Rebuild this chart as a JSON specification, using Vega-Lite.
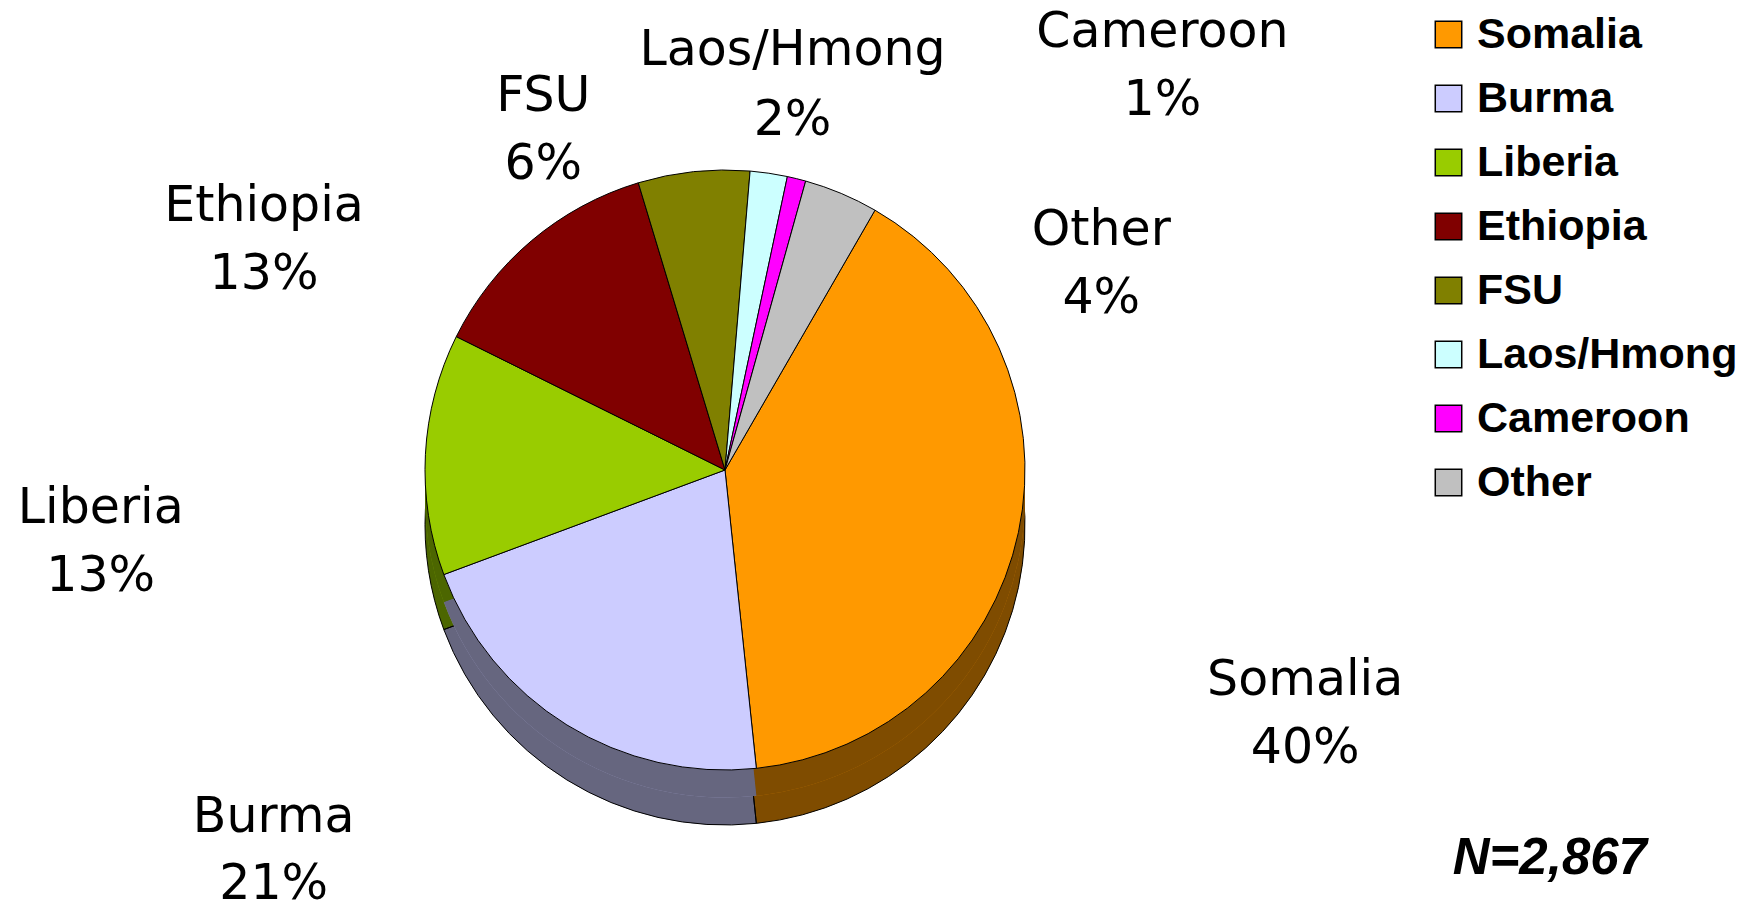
{
  "$schema": "https://vega.github.io/schema/vega-lite/v6.json",
  "width": 1755,
  "height": 913,
  "autosize": "none",
  "padding": 0,
  "background": "white",
  "config": {"view": {"stroke": null}, "text": {"font": "DejaVu Sans", "fontSize": 49, "color": "black"}},
  "layer": [
    {
      "data": {"values": [
        {"country": "Somalia", "share": 0.40, "idx": 1},
        {"country": "Burma", "share": 0.21, "idx": 2},
        {"country": "Liberia", "share": 0.13, "idx": 3},
        {"country": "Ethiopia", "share": 0.13, "idx": 4},
        {"country": "FSU", "share": 0.06, "idx": 5},
        {"country": "Laos/Hmong", "share": 0.02, "idx": 6},
        {"country": "Cameroon", "share": 0.01, "idx": 7},
        {"country": "Other", "share": 0.04, "idx": 8}
      ]},
      "encoding": {
        "theta": {"field": "share", "type": "quantitative", "stack": true, "scale": {"range": [0.5236, 6.8068]}},
        "order": {"field": "idx", "type": "quantitative"}
      },
      "layer": [
        {"mark": {"type": "arc", "radius": 300, "xOffset": -152.5, "yOffset": 68.5, "strokeWidth": 0},
         "encoding": {"color": {"field": "country", "type": "nominal"}}},
        {"mark": {"type": "arc", "radius": 300, "xOffset": -152.5, "yOffset": 68.5, "fill": "black", "fillOpacity": 0.5, "stroke": "black", "strokeWidth": 1},
         "encoding": {"detail": {"field": "country"}}},
        {"mark": {"type": "arc", "radius": 300, "xOffset": -152.5, "yOffset": 41, "strokeWidth": 0},
         "encoding": {"color": {"field": "country", "type": "nominal"}}},
        {"mark": {"type": "arc", "radius": 300, "xOffset": -152.5, "yOffset": 41, "fill": "black", "fillOpacity": 0.5, "strokeWidth": 0},
         "encoding": {"detail": {"field": "country"}}},
        {"mark": {"type": "arc", "radius": 300, "xOffset": -152.5, "yOffset": 13.5, "stroke": "black", "strokeWidth": 1},
         "encoding": {"color": {"field": "country", "type": "nominal",
           "scale": {"domain": ["Somalia", "Burma", "Liberia", "Ethiopia", "FSU", "Laos/Hmong", "Cameroon", "Other"],
                     "range": ["#FF9900", "#CCCCFF", "#99CC00", "#800000", "#808000", "#CCFFFF", "#FF00FF", "#C0C0C0"]},
           "legend": {"orient": "none", "legendX": 1427, "legendY": 13, "title": null, "symbolType": "square", "symbolSize": 700, "symbolStrokeColor": "black", "symbolStrokeWidth": 1.5, "labelFont": "Liberation Sans", "labelFontWeight": "bold", "labelFontSize": 43, "labelColor": "black", "labelOffset": 7, "rowPadding": 20, "labelLimit": 400, "padding": 0,
             "encode": {"symbols": {"update": {"stroke": {"value": "black"}, "strokeWidth": {"value": 1.5}, "opacity": {"value": 1}}}}}}}},

        {"mark": {"type": "text", "radius": 450, "xOffset": -152.5, "yOffset": 13.5, "dx": 140, "dy": 116},
         "encoding": {"detail": {"field": "country"}, "text": {"condition": {"test": "datum.country === 'Somalia'", "field": "country", "type": "nominal"}, "value": ""}}},
        {"mark": {"type": "text", "radius": 450, "xOffset": -152.5, "yOffset": 13.5, "dx": 140, "dy": 184},
         "encoding": {"detail": {"field": "country"}, "text": {"condition": {"test": "datum.country === 'Somalia'", "field": "share", "type": "quantitative", "format": ".0%"}, "value": ""}}},

        {"mark": {"type": "text", "radius": 420, "xOffset": -152.5, "yOffset": 13.5, "dx": -230, "dy": -10},
         "encoding": {"detail": {"field": "country"}, "text": {"condition": {"test": "datum.country === 'Burma'", "field": "country", "type": "nominal"}, "value": ""}}},
        {"mark": {"type": "text", "radius": 420, "xOffset": -152.5, "yOffset": 13.5, "dx": -230, "dy": 57},
         "encoding": {"detail": {"field": "country"}, "text": {"condition": {"test": "datum.country === 'Burma'", "field": "share", "type": "quantitative", "format": ".0%"}, "value": ""}}},

        {"mark": {"type": "text", "radius": 530, "xOffset": -152.5, "yOffset": 13.5, "dx": -95, "dy": 66},
         "encoding": {"detail": {"field": "country"}, "text": {"condition": {"test": "datum.country === 'Liberia'", "field": "country", "type": "nominal"}, "value": ""}}},
        {"mark": {"type": "text", "radius": 530, "xOffset": -152.5, "yOffset": 13.5, "dx": -95, "dy": 134},
         "encoding": {"detail": {"field": "country"}, "text": {"condition": {"test": "datum.country === 'Liberia'", "field": "share", "type": "quantitative", "format": ".0%"}, "value": ""}}},

        {"mark": {"type": "text", "radius": 440, "xOffset": -152.5, "yOffset": 13.5, "dx": -177, "dy": 72},
         "encoding": {"detail": {"field": "country"}, "text": {"condition": {"test": "datum.country === 'Ethiopia'", "field": "country", "type": "nominal"}, "value": ""}}},
        {"mark": {"type": "text", "radius": 440, "xOffset": -152.5, "yOffset": 13.5, "dx": -177, "dy": 140},
         "encoding": {"detail": {"field": "country"}, "text": {"condition": {"test": "datum.country === 'Ethiopia'", "field": "share", "type": "quantitative", "format": ".0%"}, "value": ""}}},

        {"mark": {"type": "text", "radius": 380, "xOffset": -152.5, "yOffset": 13.5, "dx": -142, "dy": 4},
         "encoding": {"detail": {"field": "country"}, "text": {"condition": {"test": "datum.country === 'FSU'", "field": "country", "type": "nominal"}, "value": ""}}},
        {"mark": {"type": "text", "radius": 380, "xOffset": -152.5, "yOffset": 13.5, "dx": -142, "dy": 72},
         "encoding": {"detail": {"field": "country"}, "text": {"condition": {"test": "datum.country === 'FSU'", "field": "share", "type": "quantitative", "format": ".0%"}, "value": ""}}},

        {"mark": {"type": "text", "radius": 380, "xOffset": -152.5, "yOffset": 13.5, "dx": 12, "dy": -44},
         "encoding": {"detail": {"field": "country"}, "text": {"condition": {"test": "datum.country === 'Laos/Hmong'", "field": "country", "type": "nominal"}, "value": ""}}},
        {"mark": {"type": "text", "radius": 380, "xOffset": -152.5, "yOffset": 13.5, "dx": 12, "dy": 26},
         "encoding": {"detail": {"field": "country"}, "text": {"condition": {"test": "datum.country === 'Laos/Hmong'", "field": "share", "type": "quantitative", "format": ".0%"}, "value": ""}}},

        {"mark": {"type": "text", "radius": 400, "xOffset": -152.5, "yOffset": 13.5, "dx": 342, "dy": -50},
         "encoding": {"detail": {"field": "country"}, "text": {"condition": {"test": "datum.country === 'Cameroon'", "field": "country", "type": "nominal"}, "value": ""}}},
        {"mark": {"type": "text", "radius": 400, "xOffset": -152.5, "yOffset": 13.5, "dx": 342, "dy": 18},
         "encoding": {"detail": {"field": "country"}, "text": {"condition": {"test": "datum.country === 'Cameroon'", "field": "share", "type": "quantitative", "format": ".0%"}, "value": ""}}},

        {"mark": {"type": "text", "radius": 380, "xOffset": -152.5, "yOffset": 13.5, "dx": 229, "dy": 110},
         "encoding": {"detail": {"field": "country"}, "text": {"condition": {"test": "datum.country === 'Other'", "field": "country", "type": "nominal"}, "value": ""}}},
        {"mark": {"type": "text", "radius": 380, "xOffset": -152.5, "yOffset": 13.5, "dx": 229, "dy": 178},
         "encoding": {"detail": {"field": "country"}, "text": {"condition": {"test": "datum.country === 'Other'", "field": "share", "type": "quantitative", "format": ".0%"}, "value": ""}}}
      ]
    },
    {
      "data": {"values": [{"note": "N=2,867"}]},
      "mark": {"type": "text", "align": "right", "baseline": "alphabetic", "xOffset": 769.5, "yOffset": 417.5, "font": "Liberation Sans", "fontSize": 51, "fontStyle": "italic", "fontWeight": "bold", "color": "black"},
      "encoding": {"text": {"field": "note", "type": "nominal"}}
    }
  ]
}
